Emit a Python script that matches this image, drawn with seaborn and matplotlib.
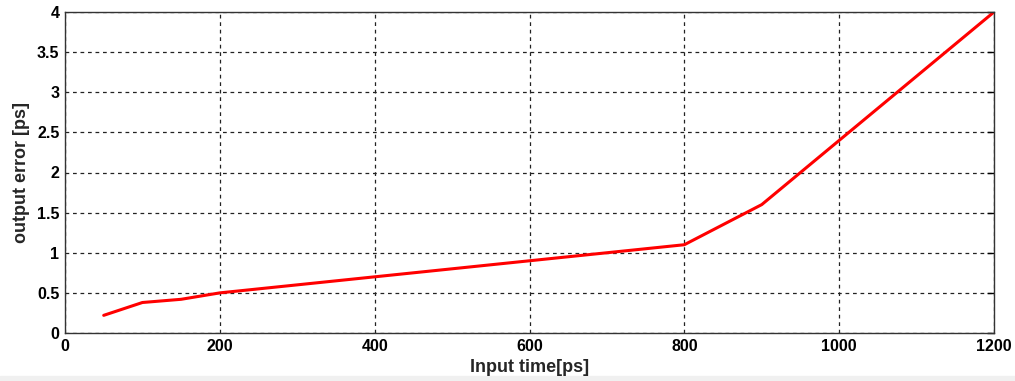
import matplotlib
matplotlib.use("Agg")
import matplotlib.pyplot as plt
import seaborn as sns
import pandas as pd

# data
input_time = [50, 100, 150, 200, 300, 400, 500, 600, 700, 800, 900, 1000, 1100, 1200]
output_error = [0.22, 0.38, 0.42, 0.5, 0.6, 0.7, 0.8, 0.9, 1.0, 1.1, 1.6, 2.4, 3.2, 4.0]
x_ticks = [0, 200, 400, 600, 800, 1000, 1200]
y_ticks = [0, 0.5, 1, 1.5, 2, 2.5, 3, 3.5, 4]
y_tick_labels = ["0", "0.5", "1", "1.5", "2", "2.5", "3", "3.5", "4"]

df = pd.DataFrame({"t": input_time, "err": output_error})

sns.set_style("white")
plt.rcParams["font.family"] = ["Liberation Sans", "DejaVu Sans"]
plt.rcParams["font.weight"] = "bold"

fig = plt.figure(figsize=(10.15, 3.81), dpi=100)
ax = fig.add_axes([65 / 1015, 1 - 333 / 381, (994 - 65) / 1015, (333 - 12) / 381])

sns.lineplot(data=df, x="t", y="err", color="red", linewidth=2.2, ax=ax)

ax.set_xlim(0, 1200)
ax.set_ylim(0, 4)
ax.set_xticks(x_ticks)
ax.set_yticks(y_ticks)
ax.set_yticklabels(y_tick_labels)
ax.grid(True, color="#222222", linestyle=(0, (3, 3)), linewidth=0.9)
ax.tick_params(direction="in", length=5, width=1, top=False, right=True,
               labelsize=11.5, colors="black", pad=4)
for lab in ax.get_xticklabels() + ax.get_yticklabels():
    lab.set_fontweight("bold")
for s in ax.spines.values():
    s.set_color("#333333")
    s.set_linewidth(1)

ax.set_xlabel("Input time[ps]", fontsize=13, fontweight="bold", labelpad=4)
ax.set_ylabel("output error [ps]", fontsize=13, fontweight="bold", labelpad=5)

# light strip along the bottom like the screenshot
fig.patches.append(plt.Rectangle((0, 0), 1, 5 / 381, transform=fig.transFigure,
                                 color="#f0f0f0", zorder=-1))

fig.savefig("out.png", dpi=100)
